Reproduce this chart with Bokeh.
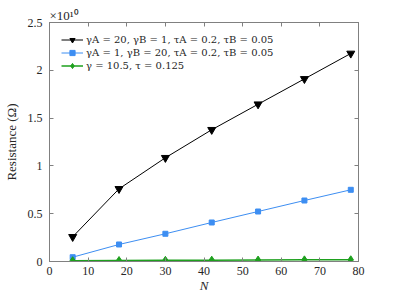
from bokeh.plotting import figure
from bokeh.models import Range1d, LinearAxis, Legend, LegendItem, FixedTicker
from bokeh.embed import file_html
from bokeh.resources import INLINE

N = [6, 18, 30, 42, 54, 66, 78]
res_a = [0.258, 0.76, 1.085, 1.378, 1.645, 1.91, 2.176]   # x1e10
res_b = [0.045, 0.178, 0.29, 0.408, 0.523, 0.638, 0.75]
res_c = [0.008, 0.010, 0.012, 0.014, 0.015, 0.017, 0.018]
labels = ["γA = 20, γB = 1, τA = 0.2, τB = 0.05",
          "γA = 1, γB = 20, τA = 0.2, τB = 0.05",
          "γ = 10.5, τ = 0.125"]
x_ticks = [0, 10, 20, 30, 40, 50, 60, 70, 80]
y_ticks = [0, 0.5, 1, 1.5, 2, 2.5]

FONT = "Liberation Serif"
LFONT = "DejaVu Serif"
AX = "#808080"
TXT = "#262626"

p = figure(frame_width=309, frame_height=239, output_backend="svg", toolbar_location=None,
           x_range=Range1d(0, 80), y_range=Range1d(0, 2.5),
           min_border_left=44, min_border_right=22, min_border_top=22, min_border_bottom=21,
           title="×10¹⁰")
p.title.text_font = FONT
p.title.text_font_size = "13px"
p.title.text_font_style = "normal"
p.title.text_color = TXT
p.title.align = "left"
p.title.offset = 0
p.title.standoff = 0
p.grid.visible = False
p.outline_line_color = AX

def style(ax, labels_on=True):
    ax.axis_line_color = AX
    ax.major_tick_line_color = AX
    ax.major_tick_in = 4
    ax.major_tick_out = 0
    ax.minor_tick_line_color = None
    ax.major_label_text_font = FONT
    ax.major_label_text_font_size = "12px"
    ax.major_label_text_color = TXT
    ax.axis_label_text_font = FONT
    ax.axis_label_text_font_size = "13px"
    ax.axis_label_text_color = TXT
    ax.axis_label_text_font_style = "normal"
    if not labels_on:
        ax.major_label_overrides = {t: "" for t in ax.ticker.ticks}
        ax.major_label_standoff = 0

p.xaxis.ticker = FixedTicker(ticks=x_ticks)
p.yaxis.ticker = FixedTicker(ticks=y_ticks)
p.yaxis.major_label_overrides = {0: "0", 0.5: "0.5", 1: "1", 1.5: "1.5", 2: "2", 2.5: "2.5"}
p.xaxis.axis_label = "N"
p.yaxis.axis_label = "Resistance (Ω)"
style(p.xaxis[0]); style(p.yaxis[0])
p.xaxis.axis_label_text_font_style = "italic"
p.xaxis.axis_label_standoff = 0
p.xaxis.major_label_standoff = 5
p.yaxis.major_label_standoff = 7
p.yaxis.axis_label_standoff = 6

top = LinearAxis(ticker=FixedTicker(ticks=x_ticks))
right = LinearAxis(ticker=FixedTicker(ticks=y_ticks))
style(top, False); style(right, False)
p.add_layout(top, "above")
p.add_layout(right, "right")

la = p.line(N, res_a, color="black", line_width=1)
ma = p.scatter(N, res_a, marker="inverted_triangle", size=8, color="black")
lb = p.line(N, res_b, color="#3d8ef2", line_width=1)
mb = p.scatter(N, res_b, marker="square", size=5, color="#3d8ef2")
lc = p.line(N, res_c, color="#1ea01e", line_width=1.5)
mc = p.scatter(N, res_c, marker="diamond", size=8, color="#1ea01e")

legend = Legend(items=[LegendItem(label=labels[0], renderers=[la, ma]),
                       LegendItem(label=labels[1], renderers=[lb, mb]),
                       LegendItem(label=labels[2], renderers=[lc, mc])],
                location=(12, 189))
legend.border_line_color = None
legend.background_fill_alpha = 0
legend.label_text_font = LFONT
legend.label_text_font_size = "10px"
legend.label_text_color = TXT
legend.glyph_width = 22
legend.glyph_height = 13
legend.spacing = 0
legend.padding = 4
legend.margin = 0
legend.label_standoff = 3
legend.label_height = 13
p.add_layout(legend, "center")

open("out.html", "w").write(file_html(p, INLINE))
